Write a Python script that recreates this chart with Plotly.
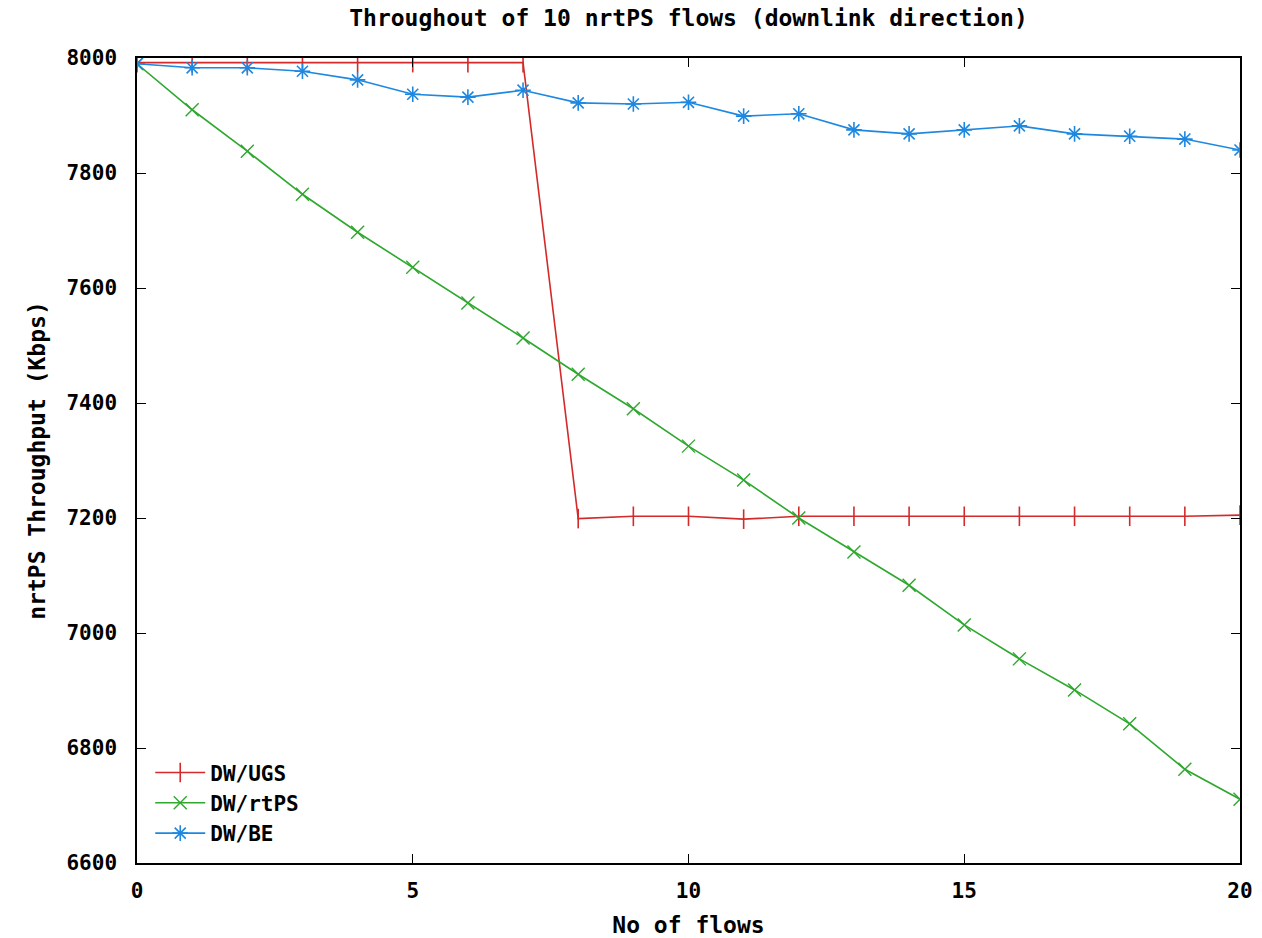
import plotly.graph_objects as go

flows = list(range(21))
ugs = [7992, 7992, 7992, 7992, 7992, 7992, 7992, 7992, 7199, 7203, 7203, 7198,
       7203, 7203, 7203, 7203, 7203, 7203, 7203, 7203, 7205]
rtps = [7990, 7910, 7838, 7763, 7697, 7636, 7574, 7513, 7450, 7390, 7325, 7266,
        7200, 7141, 7083, 7014, 6955, 6901, 6842, 6763, 6711]
be = [7990, 7983, 7983, 7977, 7962, 7937, 7932, 7944, 7922, 7920, 7923, 7899,
      7903, 7875, 7868, 7875, 7882, 7868, 7864, 7859, 7840]

series_names = ["DW/UGS", "DW/rtPS", "DW/BE"]
x_ticks = [0, 5, 10, 15, 20]
y_ticks = [6600, 6800, 7000, 7200, 7400, 7600, 7800, 8000]

FONT = "DejaVu Sans Mono"
BIG = 23
TICK = 21

fig = go.Figure()
fig.add_trace(go.Scatter(x=flows, y=ugs, name=series_names[0], mode="lines+markers",
                         line=dict(color="#d42a2a", width=1.6),
                         marker=dict(symbol="line-ns-open", size=14,
                                     line=dict(color="#d42a2a", width=1.6))))
fig.add_trace(go.Scatter(x=flows, y=rtps, name=series_names[1], mode="lines+markers",
                         line=dict(color="#2ea82e", width=1.6),
                         marker=dict(symbol="x-thin-open", size=13,
                                     line=dict(color="#2ea82e", width=1.4))))
fig.add_trace(go.Scatter(x=flows, y=be, name=series_names[2], mode="lines+markers",
                         line=dict(color="#1e88e0", width=1.6),
                         marker=dict(symbol="asterisk-open", size=13,
                                     line=dict(color="#1e88e0", width=1.6))))

fig.update_layout(
    width=1262, height=938,
    margin=dict(l=137, r=22, t=58, b=75, autoexpand=False),
    paper_bgcolor="white", plot_bgcolor="white",
    font=dict(family=FONT, size=TICK, color="black", weight="bold"),
    title=dict(text="Throughout of 10 nrtPS flows (downlink direction)",
               xref="paper", x=0.5, xanchor="center", y=0.981, yanchor="middle",
               font=dict(family=FONT, size=BIG, weight="bold")),
    showlegend=True,
    legend=dict(x=0.012, y=0.012, xanchor="left", yanchor="bottom",
                bgcolor="rgba(0,0,0,0)", font=dict(family=FONT, size=21, weight="bold"),
                tracegroupgap=0, itemwidth=50),
)
fig.update_xaxes(range=[0, 20], tickvals=x_ticks, ticks="inside", ticklen=9,
                 tickcolor="black", showline=True, linecolor="black", linewidth=1.5,
                 mirror="ticks", showgrid=False, zeroline=False, automargin=False,
                 ticklabelstandoff=8,
                 tickfont=dict(family=FONT, size=TICK, weight="bold"),
                 title=dict(text="No of flows", standoff=22,
                            font=dict(family=FONT, size=BIG, weight="bold")))
fig.update_yaxes(range=[6600, 8000], tickvals=y_ticks, ticks="inside", ticklen=9,
                 tickcolor="black", showline=True, linecolor="black", linewidth=1.5,
                 mirror="ticks", showgrid=False, zeroline=False, automargin=False,
                 ticklabelstandoff=14,
                 tickfont=dict(family=FONT, size=TICK, weight="bold"),
                 title=dict(text="nrtPS Throughput (Kbps)", standoff=14,
                            font=dict(family=FONT, size=BIG, weight="bold")))

fig.write_html("out.html")
